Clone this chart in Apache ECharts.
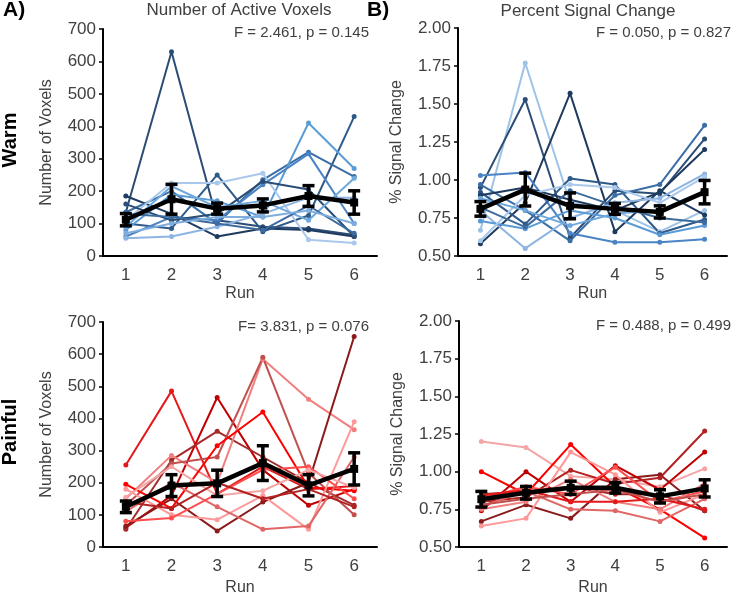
<!DOCTYPE html>
<html><head><meta charset="utf-8">
<script src="https://cdn.jsdelivr.net/npm/echarts@6/dist/echarts.min.js"></script>
<style>html,body{margin:0;padding:0;background:#fff}#c{width:735px;height:597px}</style>
</head><body><div id="c"></div>
<script>
const runs = ['1','2','3','4','5','6'];
const voxelTicks = [0, 700, 100];
const pscTicks = [0.5, 2.0, 0.25];

// Warm - number of active voxels (one row per subject, runs 1..6)
const warmVoxels = [
  [135, 630, 110, 90, 85, 65],
  [185, 130, 60, 85, 80, 60],
  [100, 85, 250, 75, 125, 430],
  [135, 200, 100, 235, 320, 245],
  [80, 190, 170, 120, 410, 270],
  [110, 225, 225, 255, 50, 40],
  [60, 120, 110, 220, 315, 100],
  [55, 60, 90, 130, 180, 180],
  [160, 110, 130, 230, 205, 60],
  [90, 215, 150, 170, 110, 240],
  [130, 120, 100, 80, 155, 70],
  [70, 100, 120, 120, 140, 100]
];
const warmVoxelsMean = [112, 175, 146, 156, 185, 165];
const warmVoxelsSE = [19, 46, 17, 20, 32, 36];

// Warm - percent signal change
const warmPSC = [
  [0.67, 1.77, 0.85, 0.80, 0.66, 0.80],
  [0.95, 1.53, 0.62, 0.93, 0.91, 1.27],
  [0.58, 0.85, 1.57, 0.66, 0.93, 0.77],
  [1.03, 1.05, 0.65, 0.59, 0.59, 0.61],
  [0.92, 0.71, 1.01, 0.97, 0.65, 0.74],
  [0.97, 0.80, 0.60, 0.90, 0.97, 1.36],
  [0.90, 0.95, 0.87, 0.80, 0.92, 1.20],
  [0.80, 0.55, 0.75, 0.85, 0.88, 1.04],
  [0.73, 0.68, 0.80, 0.75, 0.64, 0.70],
  [0.60, 0.90, 0.97, 0.95, 0.85, 1.02],
  [0.82, 0.69, 0.93, 0.83, 0.75, 0.72],
  [0.88, 0.80, 0.70, 0.78, 0.80, 0.93]
];
const warmPSCMean = [0.81, 0.937, 0.83, 0.81, 0.79, 0.92];
const warmPSCSE = [0.048, 0.108, 0.085, 0.036, 0.04, 0.077];

// Painful - number of active voxels
const painVoxels = [
  [255, 485, 165, 250, 180, 190],
  [60, 160, 465, 240, 130, 180],
  [55, 270, 360, 280, 200, 130],
  [150, 285, 200, 585, 460, 365],
  [65, 150, 50, 140, 200, 655],
  [130, 260, 280, 590, 230, 100],
  [195, 120, 315, 420, 185, 175],
  [180, 100, 85, 160, 55, 390],
  [110, 200, 125, 55, 65, 280],
  [80, 90, 165, 240, 250, 150],
  [155, 250, 160, 175, 240, 185],
  [140, 120, 200, 150, 180, 125]
];
const painVoxelsMean = [125, 191, 198, 261, 192, 243];
const painVoxelsSE = [18, 34, 41, 54, 33, 50];

// Painful - percent signal change
const painPSC = [
  [1.20, 1.16, 0.97, 0.95, 0.90, 1.02],
  [1.00, 0.85, 1.18, 0.90, 0.75, 0.56],
  [0.67, 0.78, 0.69, 0.95, 0.98, 0.74],
  [0.74, 1.00, 0.80, 1.04, 0.88, 1.13],
  [0.80, 0.83, 1.01, 0.92, 0.96, 1.27],
  [0.64, 0.69, 1.13, 0.98, 0.73, 0.85],
  [0.77, 0.87, 0.75, 0.74, 0.67, 0.82],
  [0.82, 0.90, 0.85, 1.03, 0.80, 0.87],
  [0.85, 0.87, 0.90, 0.85, 0.85, 0.74],
  [0.75, 0.80, 0.95, 0.80, 0.75, 0.92],
  [0.84, 0.88, 0.80, 0.80, 0.82, 0.75],
  [0.78, 0.82, 0.85, 0.88, 0.80, 0.85]
];
const painPSCMean = [0.817, 0.86, 0.893, 0.893, 0.836, 0.889];
const painPSCSE = [0.052, 0.042, 0.044, 0.035, 0.044, 0.057];

const blues = ['#2B4D75','#1F3A5F','#2E5A8A','#3A6EA5','#5B9BD5','#A9C8EC','#4A84C4','#8DB4E2','#2B4D75','#6FA8DC','#3D6B9E','#7FAEDD'];
const bluesB = ['#9DC3E6','#2B4D75','#1F3A5F','#4A84C4','#2E5A8A','#3A6EA5','#1F3A5F','#8DB4E2','#5B9BD5','#A9C8EC','#3D6B9E','#6FA8DC'];
const reds = ['#E31A1C','#C00000','#A52A2A','#F08080','#8B1A1A','#C0504D','#FF0000','#FF9999','#E06666','#FF4D4D','#F4A6A6','#B22222'];
const redsD = ['#F4A6A6','#FF0000','#8B1A1A','#C00000','#B22222','#FF9999','#E06666','#FF4D4D','#A52A2A','#F08080','#E31A1C','#C0504D'];

const FONT = 'Liberation Sans, Arial, sans-serif';
const grids = [
  {left:103, top:29, width:274, height:227},
  {left:458, top:28, width:269, height:228},
  {left:103, top:322, width:274, height:225},
  {left:459, top:321, width:268, height:226}
];
const panels = [
  {subj: warmVoxels, mean: warmVoxelsMean, se: warmVoxelsSE, colors: blues, ticks: voxelTicks, name:'Number of Voxels', gap:48, xgap:30, dec:0},
  {subj: warmPSC, mean: warmPSCMean, se: warmPSCSE, colors: bluesB, ticks: pscTicks, name:'% Signal Change', gap:53, xgap:30, dec:2},
  {subj: painVoxels, mean: painVoxelsMean, se: painVoxelsSE, colors: reds, ticks: voxelTicks, name:'Number of Voxels', gap:48, xgap:33, dec:0},
  {subj: painPSC, mean: painPSCMean, se: painPSCSE, colors: redsD, ticks: pscTicks, name:'% Signal Change', gap:53, xgap:33, dec:2}
];

const xAxis = [], yAxis = [], series = [];
panels.forEach((p, gi) => {
  xAxis.push({
    type:'category', gridIndex:gi, data:runs, boundaryGap:true,
    name:'Run', nameLocation:'middle', nameGap:p.xgap,
    nameTextStyle:{fontFamily:FONT, fontSize:16, color:'#404040'},
    axisLine:{lineStyle:{color:'#000', width:2}},
    axisTick:{show:false},
    axisLabel:{fontFamily:FONT, fontSize:17, color:'#404040', margin:11}
  });
  yAxis.push({
    type:'value', gridIndex:gi, min:p.ticks[0], max:p.ticks[1], interval:p.ticks[2],
    name:p.name, nameLocation:'middle', nameGap:p.gap, nameRotate:90,
    nameTextStyle:{fontFamily:FONT, fontSize:16, color:'#404040'},
    splitLine:{show:false},
    axisLine:{show:true, lineStyle:{color:'#000', width:2}},
    axisTick:{show:true, length:4, lineStyle:{color:'#000', width:1.5}},
    axisLabel:{fontFamily:FONT, fontSize:17, color:'#404040', margin:7,
      formatter: v => v.toFixed(p.dec)}
  });
  p.subj.forEach((row, i) => {
    series.push({
      type:'line', xAxisIndex:gi, yAxisIndex:gi, data:row,
      symbol:'circle', symbolSize:5, z:2, silent:true,
      lineStyle:{color:p.colors[i], width:2},
      itemStyle:{color:p.colors[i]}
    });
  });
  series.push({
    type:'line', xAxisIndex:gi, yAxisIndex:gi, data:p.mean,
    symbol:'rect', symbolSize:8, z:5,
    lineStyle:{color:'#000', width:4.5}, itemStyle:{color:'#000'}
  });
  series.push({
    type:'custom', xAxisIndex:gi, yAxisIndex:gi, z:6,
    data: p.mean.map((m, i) => [i, m - p.se[i], m + p.se[i]]),
    encode:{x:0, y:[1,2]},
    renderItem: (params, api) => {
      const lo = api.coord([api.value(0), api.value(1)]);
      const hi = api.coord([api.value(0), api.value(2)]);
      const w = 6;
      const st = {stroke:'#000', lineWidth:3.5};
      return {type:'group', children:[
        {type:'line', shape:{x1:lo[0], y1:lo[1], x2:hi[0], y2:hi[1]}, style:st},
        {type:'line', shape:{x1:lo[0]-w, y1:lo[1], x2:lo[0]+w, y2:lo[1]}, style:st},
        {type:'line', shape:{x1:hi[0]-w, y1:hi[1], x2:hi[0]+w, y2:hi[1]}, style:st}
      ]};
    }
  });
});

const txt = (x, y, text, opts) => Object.assign({type:'text', x, y,
  style:Object.assign({text, fontFamily:FONT, fontSize:15, fill:'#404040'}, opts || {})});

const graphic = [
  txt(3, 10, 'A)', {fontSize:21, fontWeight:'bold', fill:'#000', verticalAlign:'middle'}),
  txt(367, 10, 'B)', {fontSize:21, fontWeight:'bold', fill:'#000', verticalAlign:'middle'}),
  txt(239, 10, 'Number of Active Voxels', {fontSize:17, align:'center', verticalAlign:'middle'}),
  txt(588, 11, 'Percent Signal Change', {fontSize:17, align:'center', verticalAlign:'middle'}),
  txt(369, 33, 'F = 2.461, p = 0.145', {align:'right', verticalAlign:'middle'}),
  txt(731, 33, 'F = 0.050, p = 0.827', {align:'right', verticalAlign:'middle'}),
  txt(369, 327, 'F= 3.831, p = 0.076', {align:'right', verticalAlign:'middle'}),
  txt(731, 326, 'F = 0.488, p = 0.499', {align:'right', verticalAlign:'middle'}),
  {type:'text', x:10, y:140, rotation:Math.PI/2,
    style:{text:'Warm', fontFamily:FONT, fontSize:20, fontWeight:'bold', fill:'#000', align:'center', verticalAlign:'middle'}},
  {type:'text', x:10, y:432, rotation:Math.PI/2,
    style:{text:'Painful', fontFamily:FONT, fontSize:20, fontWeight:'bold', fill:'#000', align:'center', verticalAlign:'middle'}}
];

const chart = echarts.init(document.getElementById('c'), null, {renderer:'canvas'});
chart.setOption({
  animation:false,
  backgroundColor:'#fff',
  grid: grids,
  xAxis, yAxis, series, graphic
});
</script>
</body></html>
